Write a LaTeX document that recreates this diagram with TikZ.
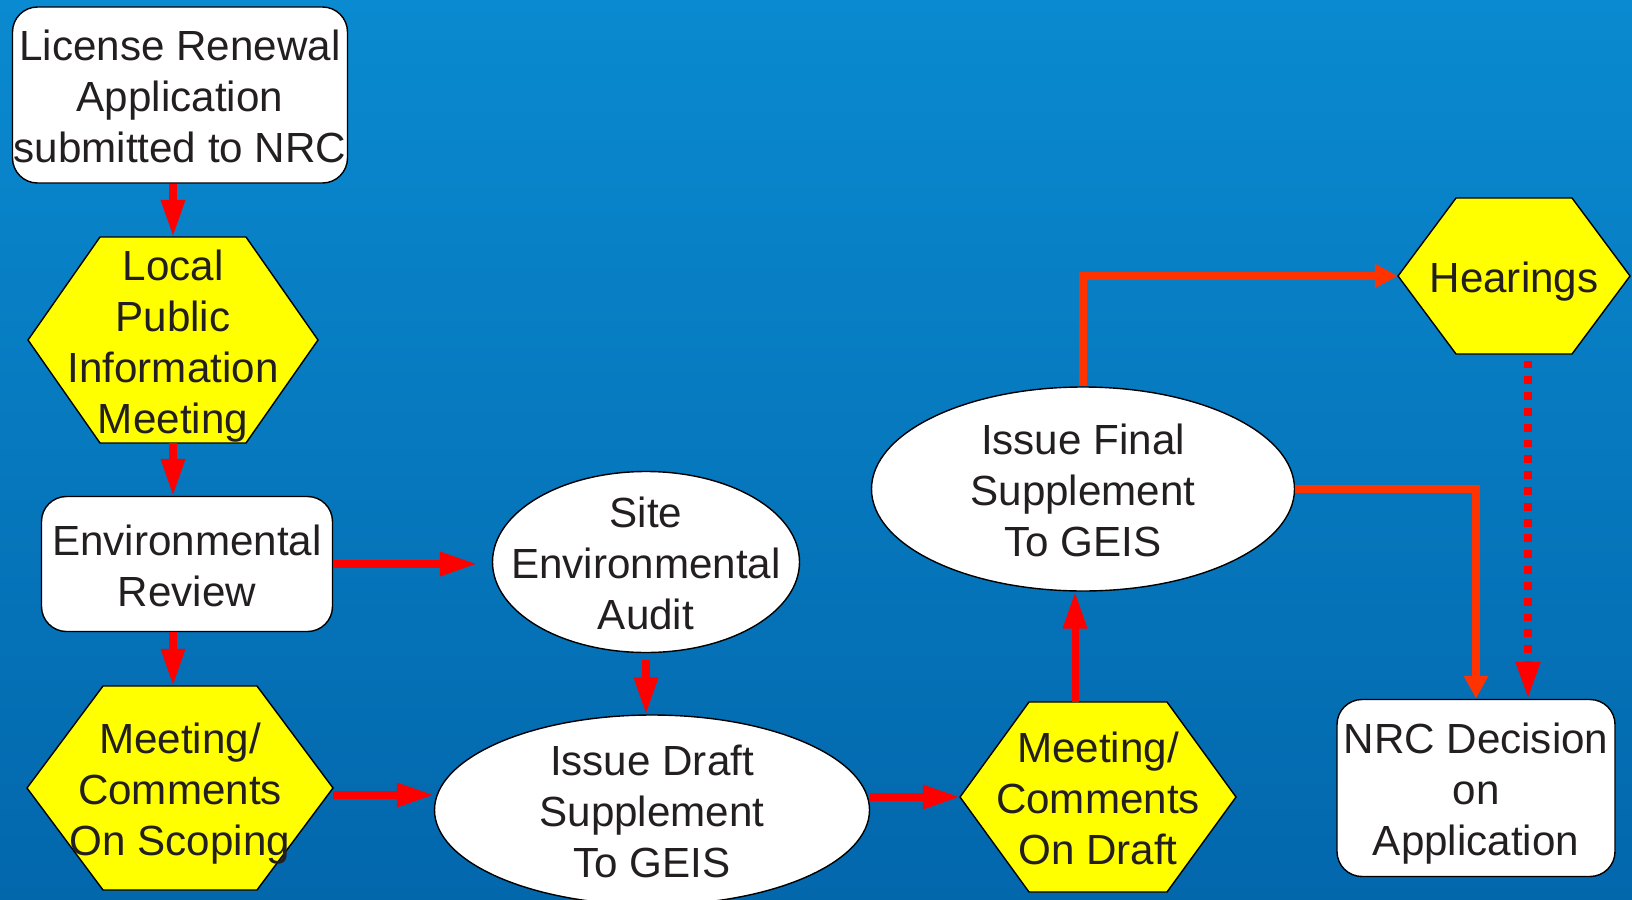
\documentclass[tikz,border=0pt]{standalone}
\usepackage{fontspec}
\setmainfont{Liberation Sans}
\usetikzlibrary{shapes,arrows.meta}
\definecolor{bgtop}{HTML}{0A8AD0}
\definecolor{bgbot}{HTML}{0367AC}
\definecolor{hexy}{HTML}{FFFF00}
\definecolor{arrred}{HTML}{FF0000}
\definecolor{arrorange}{HTML}{FF3300}
\definecolor{txtgray}{HTML}{231F20}

\begin{document}
\begin{tikzpicture}[x=0.02cm, y=-0.02cm,
		every node/.style={font=\fontsize{24}{29}\selectfont, text=txtgray, align=center, inner sep=-1cm, text depth=1.1pt},
		lines1/.style={text height=20pt},
		lines2/.style={text height=49pt},
		lines3/.style={text height=78pt},
		lines4/.style={text height=107pt},
		sz/.style 2 args={minimum width=#1*0.02cm, minimum height=#2*0.02cm},
		box/.style={rectangle, rounded corners=0.5cm, draw=black, line width=0.8pt, fill=white},
		oval/.style={ellipse, draw=black, line width=0.8pt, fill=white},
		hexfill/.style={draw=black, line width=0.8pt, fill=hexy},
		redarr/.style={arrred, line width=4pt, -{Triangle[length=21pt,width=13pt]}},
		orarr/.style={arrorange, line width=4.5pt, -{Triangle[length=13pt,width=13pt]}},
		dotarr/.style={arrred, line width=4.5pt, dash pattern=on 4.5pt off 4.5pt, -{Triangle[length=21pt,width=13pt]}}]
		
		% background
		\shade[top color=bgtop, bottom color=bgbot] (0,0) rectangle (1632,899);
		\useasboundingbox (0,0) rectangle (1632,899);
		
		% left column
		\node[box, lines3, sz={335}{176}] (lic) at (180,95) {License Renewal\\Application\\submitted to NRC};
		
		\draw[hexfill] (173,340) +(-145,0) -- +(-73,-103) -- +(73,-103) -- +(145,0) -- +(73,103) -- +(-73,103) -- cycle;
		\node[lines4, sz={290}{206}] (lpim) at (173,340) {Local\\Public\\Information\\Meeting};
		
		\node[box, lines2, sz={291}{135}] (er) at (187,564) {Environmental\\Review};
		
		\draw[hexfill] (180,788) +(-153,0) -- +(-77,-102) -- +(77,-102) -- +(153,0) -- +(77,102) -- +(-77,102) -- cycle;
		\node[lines3, sz={306}{204}] (scop) at (180,788) {Meeting/\\Comments\\On Scoping};
		
		% middle
		\node[oval, lines3, sz={307}{181}] (site) at (646,562) {Site\\Environmental\\Audit};
		\node[oval, lines3, sz={435}{190}] (draft) at (652,810) {Issue Draft\\Supplement\\To GEIS};
		
		\draw[hexfill] (1098,797) +(-138,0) -- +(-69,-95) -- +(69,-95) -- +(138,0) -- +(69,95) -- +(-69,95) -- cycle;
		\node[lines3, sz={276}{190}] (mcd) at (1098,797) {Meeting/\\Comments\\On Draft};
		
		\node[oval, lines3, sz={423}{204}] (final) at (1083,489) {Issue Final\\Supplement\\To GEIS};
		
		% right
		\draw[hexfill] (1514,276) +(-116,0) -- +(-58,-78) -- +(58,-78) -- +(116,0) -- +(58,78) -- +(-58,78) -- cycle;
		\node[lines1, sz={232}{156}] (hear) at (1514,276) {Hearings};
		
		\node[box, lines3, sz={278}{177}] (nrc) at (1476,788) {NRC Decision\\on\\Application};
		
		% arrows
		\draw[redarr] (lpim.north |- lic.south) -- (lpim.north);
		\draw[redarr] (lpim.south) -- (lpim.south |- er.north);
		\draw[redarr] (er.south -| lpim.south) -- (lpim.south |- scop.north);
		\draw[redarr, shorten >=8.5pt] (er.east) -- (er.east -| site.west);
		\draw[redarr, shorten <=4pt] (site.south) -- (site.south |- draft.north);
		\draw[redarr] ([yshift=-0.14cm]scop.east) -- ([yshift=-0.14cm]scop.east -| draft.west);
		\draw[redarr] (mcd.west -| draft.east) -- (mcd.west);
		\draw[redarr] ([xshift=-0.16cm]final.south |- mcd.north) -- ([xshift=-0.16cm]final.south);
		\draw[orarr] (final.north) |- (hear.west);
		\draw[orarr] (final.east) -| (nrc.north);
		\draw[dotarr, shorten <=3.5pt] ([xshift=0.28cm]hear.south) -- ([xshift=0.28cm]hear.south |- nrc.north);
		
\end{tikzpicture}
\end{document}
